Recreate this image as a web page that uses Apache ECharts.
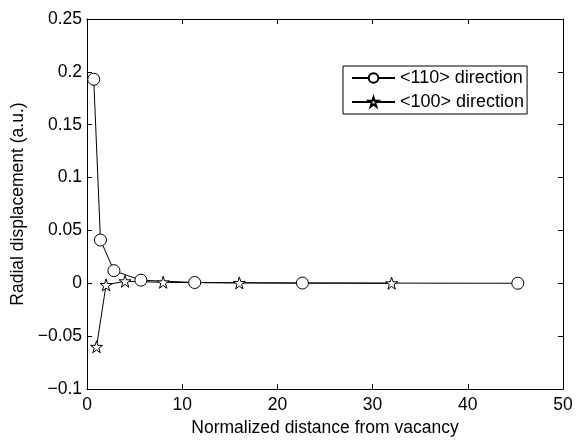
<!DOCTYPE html>
<html><head><meta charset="utf-8">
<script src="https://cdn.jsdelivr.net/npm/echarts@6/dist/echarts.min.js"></script>
<style>html,body{margin:0;padding:0;background:#fff}#c{width:577px;height:442px}</style>
</head><body><div id="c"></div>
<script>
const dist110 = [0.707, 1.414, 2.828, 5.657, 11.314, 22.627, 45.255];
const disp110 = [0.193, 0.041, 0.012, 0.003, 0.0008, 0.0003, 0.0001];
const dist100 = [1, 2, 4, 8, 16, 32];
const disp100 = [-0.060, -0.0015, 0.002, 0.001, 0.0004, 0.0001];
const name110 = '<110> direction';
const name100 = '<100> direction';
const xTitle = 'Normalized distance from vacancy';
const yTitle = 'Radial displacement (a.u.)';

const star = 'path://M50,2 L61.2,36.2 L97.5,36.2 L68.2,57.6 L79.4,91.8 L50,70.6 L20.6,91.8 L31.8,57.6 L2.5,36.2 L38.8,36.2 Z';
const font = 'Liberation Sans, Arial, sans-serif';
const fs = 17.5;
const chart = echarts.init(document.getElementById('c'));
const axisCommon = {
  axisLine: {show: true, onZero: false, lineStyle: {color: '#000', width: 1}},
  axisTick: {show: true, inside: true, length: 5, lineStyle: {color: '#000'}},
  splitLine: {show: false},
};
function fmt(v) {
  let s = String(Math.round(v * 1000) / 1000);
  return s.replace('-', '\u2212');
}
chart.setOption({
  animation: false,
  backgroundColor: '#fff',
  grid: {left: 87, right: 14, top: 19, bottom: 47, containLabel: false},
  legend: {
    left: 343, top: 66, orient: 'vertical',
    backgroundColor: '#fff', borderColor: '#000', borderWidth: 1, borderRadius: 0,
    padding: [2, 3, 2, 8], itemGap: 4, itemWidth: 43, itemHeight: 12,
    textStyle: {fontFamily: font, fontSize: 18, color: '#000', lineHeight: 20},
    data: [{name: name110}, {name: name100}]
  },
  xAxis: [
    Object.assign({type: 'value', min: 0, max: 50, interval: 10, position: 'bottom',
      name: xTitle, nameLocation: 'middle', nameGap: 24,
      nameTextStyle: {fontFamily: font, fontSize: fs, color: '#000'},
      axisLabel: {fontFamily: font, fontSize: fs, color: '#000', margin: 7}}, axisCommon),
    Object.assign({type: 'value', min: 0, max: 50, interval: 10, position: 'top',
      axisLabel: {show: false}}, axisCommon)
  ],
  yAxis: [
    Object.assign({type: 'value', min: -0.1, max: 0.25, interval: 0.05, position: 'left',
      name: yTitle, nameLocation: 'middle', nameGap: 55, nameRotate: 90,
      nameTextStyle: {fontFamily: font, fontSize: fs, color: '#000'},
      axisLabel: {fontFamily: font, fontSize: fs, color: '#000', margin: 5, formatter: fmt}}, axisCommon),
    Object.assign({type: 'value', min: -0.1, max: 0.25, interval: 0.05, position: 'right',
      axisLabel: {show: false}}, axisCommon)
  ],
  series: [
    {name: name110, type: 'line', data: dist110.map((x, i) => [x, disp110[i]]),
      symbol: 'circle', symbolSize: 12, color: '#000',
      lineStyle: {color: '#000', width: 1},
      itemStyle: {color: '#fff', borderColor: '#000', borderWidth: 1}},
    {name: name100, type: 'line', data: dist100.map((x, i) => [x, disp100[i]]),
      symbol: star, symbolSize: 12, color: '#000',
      lineStyle: {color: '#000', width: 1},
      itemStyle: {color: '#fff', borderColor: '#000', borderWidth: 1}}
  ]
});
</script></body></html>
